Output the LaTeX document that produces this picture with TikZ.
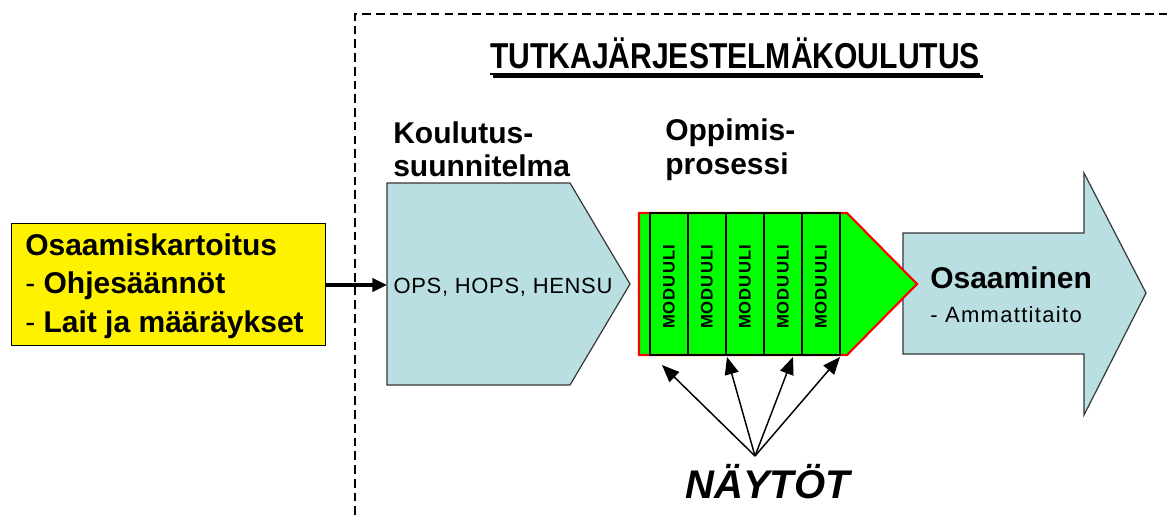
\documentclass[tikz,border=0pt]{standalone}
\usepackage{fontspec}
\setmainfont{Liberation Sans}
\usetikzlibrary{arrows.meta,calc}
\definecolor{paleblue}{RGB}{185,223,227}
\definecolor{modgreen}{RGB}{0,255,0}
\definecolor{edgegray}{RGB}{55,55,55}
\definecolor{shade}{RGB}{150,150,150}
\tikzset{
  lbl/.style={inner sep=0pt, anchor=base west, font=\bfseries\fontsize{22.5}{26}\selectfont},
  plain/.style={inner sep=0pt, anchor=base west, font=\fontsize{16.5}{20}\selectfont},
  modlabel/.style={inner sep=0pt, rotate=90,
    font=\bfseries\fontsize{12.5}{14}\selectfont\addfontfeatures{LetterSpace=6}},
  shapeedge/.style={draw=edgegray, line width=0.9pt, line join=miter},
  thinarrow/.style={line width=1.1pt, -{Triangle[length=13pt,width=10.5pt]}},
  thickarrow/.style={line width=2.4pt, -{Triangle[length=11pt,width=10pt]}},
  titlefont/.style={inner sep=0pt, anchor=base, font=\bfseries\fontsize{27}{30}\selectfont}
}
\begin{document}
\begin{tikzpicture}[x=0.75pt,y=-0.75pt]
\useasboundingbox (0,0) rectangle (1170,515);
\fill[white] (0,0) rectangle (1170,515);

% dashed frame around the training block (open to the right and below)
\draw[line width=0.9pt, dash pattern=on 6.5pt off 3.8pt] (355,515) -- (355,14) -- (1170,14);

% title with shadowed underline
\draw[shade, line width=2pt] (492.5,76.5) -- (982.5,76.5);
\node[titlefont] (title) at (735,68) {\scalebox{0.836}[1]{TUTKAJÄRJESTELMÄKOULUTUS}};
\draw[line width=2pt] (490,74) -- (980,74);

% input box
\node[draw=black, line width=1.1pt, fill=yellow, minimum width=314*0.75pt, minimum height=122*0.75pt,
      inner sep=0pt, anchor=north west] (input) at (11,223) {};
\node[lbl] (in1) at (25,255) {Osaamiskartoitus};
\node[lbl] (in2) at (25,293) {\mdseries-\ \bfseries Ohjesäännöt};
\node[lbl] (in3) at (25,332) {\mdseries-\ \bfseries Lait ja määräykset};

% training plan pentagon
\draw[shapeedge, fill=paleblue] (387,183) -- (570,183) -- (630,284) -- (570,385) -- (387,385) -- cycle;
\coordinate (planin) at (387,285);
\node[lbl] (plan1) at (393,143) {Koulutus-};
\node[lbl] (plan2) at (393,176) {suunnitelma};
\node[inner sep=0pt, anchor=base, font=\fontsize{16.5}{20}\selectfont\addfontfeatures{LetterSpace=3}] (plantext) at (503,293) {OPS, HOPS, HENSU};

\draw[thickarrow] (input.east |- planin) -- (planin);

% outcome arrow
\draw[shapeedge, fill=paleblue] (903,233) -- (1084,233) -- (1084,173) -- (1146,293) -- (1084,415) -- (1084,354) -- (903,354) -- cycle;
\node[lbl] (out1) at (930,288) {Osaaminen};
\node[plain, font=\fontsize{16.5}{20}\selectfont\addfontfeatures{LetterSpace=6}] (out2) at (930,322) {- Ammattitaito};

% learning process: green arrow with modules, its tip over the outcome arrow
\draw[draw=red, line width=1.6pt, fill=modgreen, line join=miter] (639,213) -- (847,213) -- (917,284) -- (847,355) -- (639,355) -- cycle;
\foreach \i in {0,...,4} {
  \draw[line width=0.9pt] (650+38*\i,213) rectangle (688+38*\i,355);
  \node[modlabel] (mod\i) at (669+38*\i,287) {MODUULI};
}
\node[lbl] (proc1) at (665,140) {Oppimis-};
\node[lbl] (proc2) at (665,174) {prosessi};

% demonstrations
\node[inner sep=0pt, anchor=base west, font=\bfseries\itshape\fontsize{30}{34}\selectfont] (demo) at (685,498) {NÄYTÖT};
\coordinate (hub) at (755,456);
\coordinate (t1) at (662,365);
\coordinate (t2) at (727,357);
\coordinate (t3) at (793,357);
\coordinate (t4) at (840,357);
\foreach \t in {t1,t2,t3,t4} \draw[thinarrow] (hub) -- (\t);
\end{tikzpicture}
\end{document}
